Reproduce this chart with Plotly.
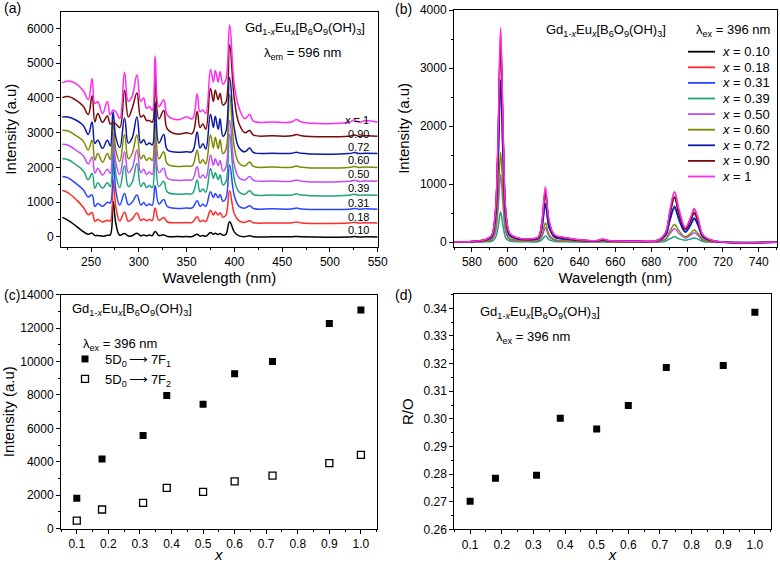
import plotly.graph_objects as go

# ---------------- Panel (a): excitation spectra (stacked, as displayed) ----------------
WL_A = [220, 226, 235, 242, 247, 251, 254, 257, 262, 267, 270, 273, 276, 280, 285, 289, 293, 298, 302, 305,
        308, 311, 314, 317, 321, 326, 330, 340, 350, 356, 361, 364, 367, 370, 375, 378, 380, 383, 385, 388,
        391, 395, 400, 405, 411, 416, 420, 440, 460, 465, 470, 520, 526, 530, 537, 550]

EXC_010 = [565, 480, 300, 150, 80, 110, 40, 45, 20, 50, 60, 1020, 380, 50, 100, 25, 35, 110, 30, 60,
           30, 60, 40, 160, 40, 60, 15, 10, 10, 15, 80, 25, 40, 20, 125, 80, 110, 70, 100, 50,
           70, 440, 140, 30, 10, 35, 5, 5, 5, 15, 5, 0, 10, 0, 5, 0]
EXC_018 = [1345, 1270, 1060, 850, 640, 700, 450, 500, 430, 480, 460, 1640, 860, 460, 710, 450, 520, 690, 480, 520,
           470, 500, 470, 830, 480, 560, 430, 410, 415, 420, 585, 440, 480, 440, 770, 630, 720, 630, 700, 570,
           620, 1330, 660, 460, 420, 470, 410, 405, 405, 430, 405, 400, 420, 400, 410, 400]
EXC_031 = [1740, 1700, 1520, 1350, 1150, 1210, 880, 960, 880, 1000, 980, 2440, 1320, 920, 1250, 930, 1000, 1210, 920, 990,
           900, 950, 910, 1480, 950, 1080, 870, 820, 830, 840, 1040, 880, 940, 880, 1300, 1130, 1250, 1130, 1220, 1030,
           1100, 2070, 1180, 880, 830, 900, 820, 810, 805, 830, 805, 800, 820, 800, 810, 800]
EXC_039 = [2250, 2220, 2060, 1900, 1650, 1830, 1400, 1560, 1400, 1560, 1450, 2860, 1780, 1420, 2050, 1450, 1580, 2110, 1450, 1560,
           1420, 1480, 1420, 2500, 1450, 1600, 1290, 1230, 1240, 1250, 1640, 1300, 1380, 1290, 1970, 1680, 1850, 1650, 1780, 1500,
           1580, 2950, 1650, 1290, 1230, 1330, 1220, 1210, 1205, 1240, 1205, 1200, 1230, 1200, 1210, 1200]
EXC_050 = [2670, 2640, 2480, 2330, 2100, 2300, 1830, 1980, 1780, 1950, 1830, 3000, 2120, 1800, 2450, 1850, 1980, 2500, 1850, 1950,
           1800, 1870, 1800, 2880, 1850, 1980, 1690, 1630, 1640, 1650, 2020, 1700, 1780, 1700, 2350, 2060, 2250, 2050, 2200, 1900,
           2000, 3350, 2060, 1700, 1640, 1740, 1630, 1610, 1605, 1640, 1605, 1600, 1630, 1600, 1610, 1600]
EXC_060 = [3070, 3050, 2900, 2750, 2500, 2785, 2210, 2400, 2150, 2400, 2230, 3300, 2480, 2170, 2950, 2250, 2400, 2930, 2250, 2350,
           2200, 2280, 2200, 3400, 2250, 2450, 2100, 2030, 2040, 2050, 2500, 2120, 2220, 2100, 2930, 2560, 2870, 2540, 2800, 2400,
           2500, 4100, 2560, 2120, 2040, 2160, 2030, 2010, 2005, 2040, 2005, 2000, 2030, 2000, 2010, 2000]
EXC_072 = [3450, 3450, 3350, 3200, 2950, 3310, 2690, 2785, 2550, 2785, 2620, 3600, 2850, 2570, 3420, 2700, 2850, 3450, 2700, 2800,
           2650, 2700, 2650, 3880, 2700, 2950, 2500, 2440, 2450, 2460, 3020, 2560, 2680, 2530, 3530, 3150, 3470, 3100, 3400, 2900,
           3020, 4590, 3100, 2560, 2450, 2560, 2430, 2410, 2405, 2440, 2405, 2400, 2430, 2400, 2410, 2400]
EXC_090 = [4010, 4040, 3920, 3750, 3520, 4060, 3310, 3550, 3300, 3480, 3250, 3300, 3250, 3150, 4220, 3450, 3700, 4140, 3450, 3500,
           3350, 3350, 3300, 4670, 3400, 3640, 3100, 2960, 3000, 2980, 3610, 3150, 3250, 3100, 4270, 3900, 4220, 3950, 4130, 3800,
           3870, 5530, 3950, 3250, 3000, 3060, 2930, 2910, 2910, 2950, 2910, 2900, 2930, 2900, 2910, 2900]
EXC_100 = [4430, 4490, 4400, 4200, 3950, 4560, 3840, 3890, 3550, 3900, 3510, 3650, 3600, 3410, 4740, 3900, 4050, 4660, 3900, 4000,
           3700, 3750, 3650, 5200, 3750, 3940, 3500, 3370, 3450, 3400, 4110, 3600, 3650, 3550, 4820, 4460, 4790, 4460, 4750, 4400,
           4520, 6100, 4350, 3700, 3400, 3520, 3330, 3310, 3310, 3380, 3310, 3300, 3370, 3300, 3340, 3300]

# ---------------- Panel (b): emission spectra ----------------
WL_B = [570, 580, 585, 588, 591, 593, 594.5, 596, 597.5, 599, 601, 605, 612, 617, 619, 621, 623, 626, 632, 645,
        650, 653, 656, 670, 684, 688, 690.5, 693, 695.5, 699, 702, 704, 706, 709, 715, 750]

EM_010 = [4, 13, 27, 50, 110, 465, 1590, 3450, 1680, 465, 150, 74, 55, 83, 310, 830, 340, 118, 74, 28,
          28, 50, 28, 18, 36, 150, 500, 770, 495, 222, 380, 500, 375, 108, 22, 3]
EM_018 = [5, 15, 30, 54, 118, 495, 1680, 3650, 1775, 495, 158, 79, 59, 88, 345, 930, 372, 127, 78, 30,
          30, 54, 30, 20, 39, 168, 550, 860, 555, 246, 415, 560, 415, 116, 24, 3]
EM_031 = [4, 11, 22, 40, 87, 365, 1240, 2700, 1310, 365, 117, 58, 44, 63, 238, 640, 258, 88, 55, 21,
          21, 38, 21, 14, 28, 116, 380, 590, 380, 172, 296, 400, 296, 83, 17, 2]
EM_039 = [1, 2, 4, 8, 17, 70, 238, 520, 253, 70, 22, 11, 8, 11, 41, 110, 44, 15, 10, 4,
          4, 7, 4, 2, 5, 19, 61, 95, 61, 35, 58, 75, 55, 15, 3, 0]
EM_050 = [2, 5, 9, 17, 38, 157, 530, 1160, 565, 157, 50, 25, 19, 25, 93, 250, 100, 34, 21, 8,
          8, 15, 8, 5, 11, 46, 152, 235, 152, 75, 122, 165, 122, 34, 7, 1]
EM_060 = [2, 6, 12, 23, 50, 210, 710, 1550, 750, 210, 67, 34, 25, 33, 122, 330, 133, 45, 28, 11,
          11, 20, 11, 7, 14, 60, 197, 305, 197, 95, 155, 210, 155, 43, 9, 1]
EM_072 = [4, 11, 23, 42, 90, 380, 1290, 2800, 1360, 380, 120, 60, 45, 65, 250, 670, 270, 92, 57, 22,
          22, 40, 22, 15, 29, 122, 400, 620, 400, 180, 310, 420, 310, 87, 18, 2]
EM_090 = [5, 14, 28, 50, 110, 470, 1600, 3480, 1690, 470, 150, 75, 55, 85, 320, 850, 350, 120, 75, 28,
          28, 50, 28, 18, 36, 155, 510, 780, 500, 225, 385, 510, 380, 110, 22, 3]
EM_100 = [5, 15, 30, 55, 120, 500, 1700, 3700, 1800, 500, 160, 80, 60, 90, 350, 950, 380, 130, 80, 30,
          30, 55, 30, 20, 40, 170, 560, 870, 560, 250, 430, 580, 430, 120, 25, 3]

# ---------------- Panels (c) and (d) ----------------
X_CONC = [0.10, 0.18, 0.31, 0.385, 0.50, 0.60, 0.72, 0.90, 1.00]
I_7F1 = [1820, 4170, 5580, 7970, 7450, 9270, 10000, 12270, 13080]
I_7F2 = [480, 1150, 1550, 2440, 2200, 2830, 3180, 3920, 4420]
R_O = [0.2702, 0.2785, 0.2796, 0.3002, 0.2963, 0.3048, 0.3186, 0.3193, 0.3386]

SERIES_LABELS = ["0.10", "0.18", "0.31", "0.39", "0.50", "0.60", "0.72", "0.90", "1"]
COLORS = ["#000000", "#ff2a2a", "#2a45ff", "#1fa37c", "#c24cf5", "#7d8a00", "#0d1aa8", "#7a0a0a", "#ff2bf0"]
EXC = [EXC_010, EXC_018, EXC_031, EXC_039, EXC_050, EXC_060, EXC_072, EXC_090, EXC_100]
EM = [EM_010, EM_018, EM_031, EM_039, EM_050, EM_060, EM_072, EM_090, EM_100]
# y positions (data units) of the right-hand labels in panel (a)
LABEL_Y_A = [200, 585, 985, 1400, 1820, 2220, 2580, 2950, 3360]

W, H = 780, 563
FONT = "Arial, Liberation Sans, sans-serif"


def xd(left, right):
    return [left / W, right / W]


def yd(top, bottom):
    return [1 - bottom / H, 1 - top / H]


fig = go.Figure()

for lab, col, ys in zip(SERIES_LABELS, COLORS, EXC):
    fig.add_trace(go.Scatter(x=WL_A, y=ys, mode="lines", xaxis="x", yaxis="y",
                             line=dict(color=col, width=1.5, shape="spline", smoothing=1.2),
                             showlegend=False))

for lab, col, ys in zip(SERIES_LABELS, COLORS, EM):
    fig.add_trace(go.Scatter(x=WL_B, y=ys, mode="lines", xaxis="x2", yaxis="y2",
                             line=dict(color=col, width=1.5, shape="spline", smoothing=1.0),
                             showlegend=False))

fig.add_trace(go.Scatter(x=X_CONC, y=I_7F1, mode="markers", xaxis="x3", yaxis="y3",
                         name="5D<sub>0</sub>\u2009\u27F6\u20097F<sub>1</sub>",
                         marker=dict(symbol="square", size=7, color="black"),
                         legend="legend2"))
fig.add_trace(go.Scatter(x=X_CONC, y=I_7F2, mode="markers", xaxis="x3", yaxis="y3",
                         name="5D<sub>0</sub>\u2009\u27F6\u20097F<sub>2</sub>",
                         marker=dict(symbol="square-open", size=7, color="black", line=dict(width=1.3)),
                         legend="legend2"))
fig.add_trace(go.Scatter(x=X_CONC, y=R_O, mode="markers", xaxis="x4", yaxis="y4",
                         marker=dict(symbol="square", size=7, color="black"), showlegend=False))

axis_common = dict(showline=True, linecolor="black", linewidth=1, mirror=True, ticks="outside",
                   ticklen=4, tickwidth=1, tickcolor="black", showgrid=False, zeroline=False,
                   automargin=False,
                   tickfont=dict(size=12, family=FONT, color="black"),
                   minor=dict(ticks="outside", ticklen=2, tickwidth=1, tickcolor="black", showgrid=False))

title_font = dict(size=15, family=FONT, color="black")

fig.update_layout(
    template="none",
    width=W, height=H, margin=dict(l=0, r=0, t=0, b=0, autoexpand=False),
    paper_bgcolor="white", plot_bgcolor="white",
    font=dict(family=FONT, size=12, color="black"),
    xaxis=dict(axis_common, domain=xd(61, 377.7), range=[218.5, 550], anchor="y",
               tickvals=[250, 300, 350, 400, 450, 500, 550],
               minor=dict(axis_common["minor"], dtick=25, tick0=225),
               title=dict(text="Wavelength (nm)", font=title_font, standoff=2)),
    yaxis=dict(axis_common, domain=yd(11.7, 246.7), range=[-280, 6480], anchor="x",
               dtick=1000, tickformat="d", minor=dict(axis_common["minor"], dtick=500),
               title=dict(text="Intensity (a.u)", font=title_font, standoff=6)),
    xaxis2=dict(axis_common, domain=xd(454, 776.7), range=[570, 750], anchor="y2",
                tickvals=[580, 600, 620, 640, 660, 680, 700, 720, 740],
                minor=dict(axis_common["minor"], dtick=10, tick0=570),
                title=dict(text="Wavelength (nm)", font=title_font, standoff=2)),
    yaxis2=dict(axis_common, domain=yd(10, 246.7), range=[-76, 4000], anchor="x2",
                dtick=1000, tickformat="d", minor=dict(axis_common["minor"], dtick=500),
                title=dict(text="Intensity (a.u)", font=title_font, standoff=6)),
    xaxis3=dict(axis_common, domain=xd(61, 376.7), range=[0.05, 1.05], anchor="y3",
                tickvals=[0.1, 0.2, 0.3, 0.4, 0.5, 0.6, 0.7, 0.8, 0.9, 1.0], tickformat=".1f",
                minor=dict(axis_common["minor"], dtick=0.05, tick0=0.05),
                title=dict(text="<i>x</i>", font=title_font, standoff=0)),
    yaxis3=dict(axis_common, domain=yd(294.7, 528.7), range=[0, 14000], anchor="x3",
                dtick=2000, tickformat="d", minor=dict(axis_common["minor"], dtick=1000),
                title=dict(text="Intensity (a.u)", font=title_font, standoff=6)),
    xaxis4=dict(axis_common, domain=xd(454.3, 770.7), range=[0.05, 1.05], anchor="y4",
                tickvals=[0.1, 0.2, 0.3, 0.4, 0.5, 0.6, 0.7, 0.8, 0.9, 1.0], tickformat=".1f",
                minor=dict(axis_common["minor"], dtick=0.05, tick0=0.05),
                title=dict(text="<i>x</i>", font=title_font, standoff=0)),
    yaxis4=dict(axis_common, domain=yd(294, 529.3), range=[0.26, 0.3452], anchor="x4",
                dtick=0.01, tickformat=".2f", minor=dict(axis_common["minor"], dtick=0.005),
                title=dict(text="R/O", font=title_font, standoff=6)),
    legend2=dict(x=65 / W, y=1 - 344 / H, xanchor="left", yanchor="top",
                 bgcolor="rgba(0,0,0,0)", font=dict(size=13, family=FONT, color="black"),
                 itemwidth=30, tracegroupgap=0),
)

ann = []
shapes = []
# panel letters
for txt, px, py in [("(a)", 2, 8), ("(b)", 393, 9), ("(c)", 2, 295), ("(d)", 393, 295)]:
    ann.append(dict(text=txt, x=px / W, y=1 - py / H, xref="paper", yref="paper",
                    xanchor="left", yanchor="middle", showarrow=False,
                    font=dict(size=14, family=FONT, color="black")))

formula = "Gd<sub>1-<i>x</i></sub>Eu<sub><i>x</i></sub>[B<sub>6</sub>O<sub>9</sub>(OH)<sub>3</sub>]"
for txt, px, py in [(formula, 305, 29), ("\u03bb<sub>em</sub> = 596 nm", 302, 54),
                    (formula, 606, 30), ("\u03bb<sub>ex</sub> = 396 nm", 733, 30),
                    (formula, 132, 309), ("\u03bb<sub>ex</sub> = 396 nm", 120, 344),
                    (formula, 540, 312), ("\u03bb<sub>ex</sub> = 396 nm", 533, 337)]:
    ann.append(dict(text=txt, x=px / W, y=1 - py / H, xref="paper", yref="paper",
                    xanchor="center", yanchor="middle", showarrow=False,
                    font=dict(size=13, family=FONT, color="black")))

# right-hand labels of panel (a)
for lab, yv in zip(SERIES_LABELS, LABEL_Y_A):
    t = "<i>x</i> = 1" if lab == "1" else lab
    ann.append(dict(text=t, x=543, y=yv, xref="x", yref="y", xanchor="right", yanchor="middle",
                    showarrow=False, font=dict(size=11, family=FONT, color="black")))

# legend of panel (b) (compact, as in the original)
for i, (lab, col) in enumerate(zip(SERIES_LABELS, COLORS)):
    ypix = 51.7 + i * 15.6
    shapes.append(dict(type="line", xref="paper", yref="paper",
                       x0=688 / W, x1=715 / W, y0=1 - ypix / H, y1=1 - ypix / H,
                       line=dict(color=col, width=1.8)))
    ann.append(dict(text="<i>x</i> = " + lab, x=720 / W, y=1 - ypix / H, xref="paper", yref="paper",
                    xanchor="left", yanchor="middle", showarrow=False,
                    font=dict(size=13, family=FONT, color="black")))

fig.update_layout(annotations=ann, shapes=shapes)
fig.write_html("out.html", config={"displayModeBar": False},
               post_script="document.body.style.margin='0px';document.body.style.padding='0px';"
                           "document.body.style.overflow='hidden';")
